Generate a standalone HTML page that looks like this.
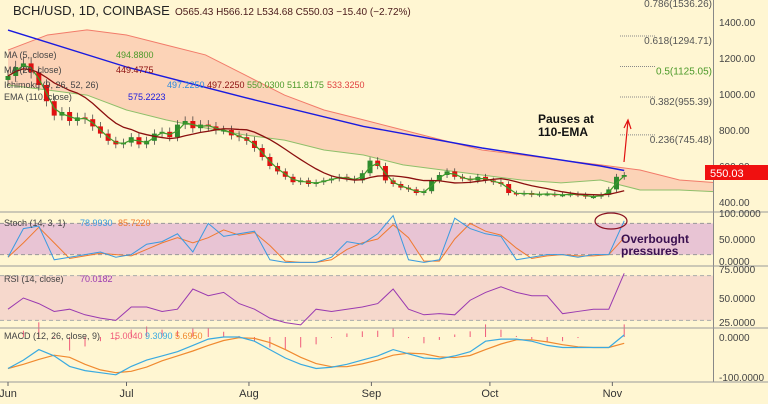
<!DOCTYPE html>
<html><head><meta charset="utf-8"><style>
body{margin:0;width:768px;height:404px;overflow:hidden;background:#fff6d2;font-family:"Liberation Sans",sans-serif}
svg{display:block}
</style></head><body>
<svg id="c" width="768" height="404" xmlns="http://www.w3.org/2000/svg">
<rect x="0" y="0" width="768" height="404" fill="#fff6d2"/>
<g id="main"></g>
<g id="stochG"></g>
<g id="rsiG"></g>
<g id="macdG"></g>
<g id="axes"></g>
</svg>
<script>
// ---- data ----
const closes = [1100,1150,1170,1120,1050,960,880,900,850,870,860,820,780,740,720,
730,760,720,740,780,790,760,830,850,810,830,820,800,800,770,760,
740,700,650,600,570,540,510,520,500,510,520,530,540,530,520,560,
630,600,520,500,480,470,450,460,520,550,570,540,530,520,540,
520,510,500,450,445,450,440,445,445,440,440,445,440,430,430,440,
470,540,550];
const emaDays = [0,30,60,90,120,150,156];
const emaVals = [1355,1150,980,820,700,600,575];
const cloudDays = [0,10,20,30,40,50,60,70,80,90,100,110,120,130,140,150,160,170,180];
const cloudTop = [1244,1328,1356,1328,1272,1217,1106,994,911,856,800,744,689,661,633,606,578,522,506];
const cloudBot = [1050,1022,994,911,856,811,772,744,689,661,606,578,550,522,506,522,467,467,456];
const stochK = [15,70,75,10,15,20,25,15, 20,40,45,60,25,80,55,60, 65,10,5,5,5,15,45,40, 60,95,10,5,10,90,70,60, 55,10,15,20,20,15,20,20, 85];
const rsiVals = [40,50,45,38,40,35,32,30, 42,42,38,40,58,52,55,45, 40,32,28,26,40,38,40,42, 45,58,40,35,36,35,48,55, 60,55,52,52,36,38,40,40, 72];
const macdVals = [-75,-55,-30,-45,-70,-80,-85,-90, -70,-55,-45,-35,-20,-5,0,0, -10,-30,-50,-65,-75,-72,-65,-55, -45,-30,-40,-50,-52,-45,-35,-10, -5,-5,-10,-20,-25,-25,-25,-25, 5];
const monthLabels = ["Jun","Jul","Aug","Sep","Oct","Nov"];
const monthDays = [0,30,61,92,122,153];
const priceTicks = [1400,1200,1000,800,600,400];
const fibLabels = ["0.786(1536.26)","0.618(1294.71)","0.5(1125.05)","0.382(955.39)","0.236(745.48)"];
const fibPrices = [1536.26,1294.71,1125.05,955.39,745.48];

// ---- scales ----
const NS="http://www.w3.org/2000/svg";
const xd = d => 8 + d*3.95;
const yp = p => 22 + (1400-p)*0.18;
const ys = v => 265 - v*0.52;
const yr = v => 270 + (75-v)*1.12;
const ym = v => 337 - v*0.42;
function mk(par,tag,at,txt){const e=document.createElementNS(NS,tag);for(const k in at)e.setAttribute(k,at[k]);if(txt!==undefined)e.textContent=txt;document.getElementById(par).appendChild(e);return e;}
const pts=(days,vals,fy)=>days.map((d,i)=>xd(d)+","+fy(vals[i])).join(" ");

// ---- main pane ----
let e;
e=mk("main","polygon",{points:pts(cloudDays,cloudTop,yp)+" "+pts(cloudDays.slice().reverse(),cloudBot.slice().reverse(),yp),fill:"#fbcdb3",opacity:"0.85"});

e=mk("main","polyline",{points:pts(cloudDays,cloudTop,yp),fill:"none",stroke:"#f27b6a","stroke-width":1});

e=mk("main","polyline",{points:pts(cloudDays,cloudBot,yp),fill:"none",stroke:"#8fbf6a","stroke-width":1});

// candles
const cd = closes.map((c,i)=>i*156/(closes.length-1));
closes.forEach((c,i)=>{const o=i?closes[i-1]:c*0.98;const up=c>=o;const x=xd(cd[i]);
 const hi=Math.max(o,c)*1.03,lo=Math.min(o,c)*0.97;
 e=mk("main","line",{x1:x,x2:x,y1:yp(hi),y2:yp(lo),stroke:"#333","stroke-width":0.7});
 
 e=mk("main","rect",{x:x-2.5,y:Math.min(yp(o),yp(c)),width:5,height:Math.max(1.5,Math.abs(yp(o)-yp(c))),fill:up?"#2e8b2e":"#e01010"});
 });
function sma(a,n){return a.map((v,i)=>{const s=a.slice(Math.max(0,i-n+1),i+1);return s.reduce((x,y)=>x+y,0)/s.length;});}
e=mk("main","polyline",{points:pts(cd,sma(closes,2),yp),fill:"none",stroke:"#3e9b2a","stroke-width":1.2});

e=mk("main","polyline",{points:pts(cd,sma(closes,10),yp),fill:"none",stroke:"#8b0f0f","stroke-width":1.3});

e=mk("main","polyline",{points:pts(emaDays,emaVals,yp),fill:"none",stroke:"#1a1adf","stroke-width":1.4});

// fib
fibPrices.forEach((p,i)=>{const y=yp(p);
 if(i>0){e=mk("main","line",{x1:620,x2:656,y1:y-5,y2:y-5,stroke:"#888","stroke-dasharray":"1,1"});}
 e=mk("main","text",{x:712,y:i==0?7:y+3,"font-size":10,fill:i==2?"#4c9a2a":"#555","text-anchor":"end"},fibLabels[i]);
 });
e=mk("main","path",{d:"M624,162 L628,121 M624,128 L628,120 L631,129",stroke:"#e01010",fill:"none","stroke-width":1.2});

e=mk("main","text",{x:538,y:123,"font-size":12,"font-weight":"bold",fill:"#111"},"Pauses at");
e=mk("main","text",{x:538,y:136,"font-size":12,"font-weight":"bold",fill:"#111"},"110-EMA");
const leg=[["BCH/USD, 1D, COINBASE",13,15,"#222",13],["O565.43  H566.12  L534.68  C550.03  −15.40 (−2.72%)",175,15,"#4a1a1a",10],
["MA (5, close)",4,58,"#444",9],["494.8800",116,58,"#4c9a2a",9],["MA (20, close)",4,73,"#444",9],["449.4775",116,73,"#8b0f0f",9],
["Ichimoku (9, 26, 52, 26)",4,88,"#444",9],["497.2250",167,88,"#2a8adf",9],["497.2250",207,88,"#8b0f0f",9],["550.0300",247,88,"#4c9a2a",9],["511.8175",287,88,"#4c9a2a",9],["533.3250",327,88,"#e04040",9],
["EMA (110, close)",4,100,"#444",9],["575.2223",128,100,"#1a1adf",9]];
leg.forEach(l=>{e=mk("main","text",{x:l[1],y:l[2],"font-size":l[4],fill:l[3]},l[0]);});

// ---- stoch ----
e=mk("stochG","rect",{x:0,y:ys(80),width:713,height:ys(20)-ys(80),fill:"#e8c4d4"});
[80,20].forEach(v=>{e=mk("stochG","line",{x1:0,x2:713,y1:ys(v),y2:ys(v),stroke:"#999","stroke-dasharray":"4,3"});});
const id4=stochK.map((v,i)=>i*156/(stochK.length-1));
e=mk("stochG","polyline",{points:pts(id4,sma(stochK,2),ys),fill:"none",stroke:"#f07a30","stroke-width":1});
e=mk("stochG","polyline",{points:pts(id4,stochK,ys),fill:"none",stroke:"#3a9ae0","stroke-width":1});
e=mk("stochG","ellipse",{cx:611,cy:221,rx:16,ry:8,fill:"none",stroke:"#8b1020","stroke-width":1.2});
e=mk("stochG","text",{x:621,y:243,"font-size":12,"font-weight":"bold",fill:"#3a1050"},"Overbought");
e=mk("stochG","text",{x:621,y:255,"font-size":12,"font-weight":"bold",fill:"#3a1050"},"pressures");
[["Stoch (14, 3, 1)",4,"#444"],["78.9930",80,"#3a9ae0"],["85.7220",118,"#f07a30"]].forEach(l=>{e=mk("stochG","text",{x:l[1],y:226,"font-size":9,fill:l[2]},l[0]);});

// ---- rsi ----
e=mk("rsiG","rect",{x:0,y:yr(70),width:713,height:yr(30)-yr(70),fill:"#f6d8cc"});
[70,30].forEach(v=>{e=mk("rsiG","line",{x1:0,x2:713,y1:yr(v),y2:yr(v),stroke:"#aaa","stroke-dasharray":"4,3"});});
e=mk("rsiG","polyline",{points:pts(id4,rsiVals,yr),fill:"none",stroke:"#9a3ab0","stroke-width":1});
[["RSI (14, close)",4,"#444"],["70.0182",80,"#9a3ab0"]].forEach(l=>{e=mk("rsiG","text",{x:l[1],y:282,"font-size":9,fill:l[2]},l[0]);});

// ---- macd ----
const sig=macdVals.map((v,i,a)=>{const s=a.slice(Math.max(0,i-2),i+1);return s.reduce((x,y)=>x+y,0)/s.length;});
macdVals.forEach((v,i)=>{const h=(v-sig[i])*1.5;const x=xd(id4[i]);
 e=mk("macdG","line",{x1:x,x2:x,y1:ym(0),y2:ym(h),stroke:"#f05a7a","stroke-width":1});});
e=mk("macdG","polyline",{points:pts(id4,sig,ym),fill:"none",stroke:"#f08a30","stroke-width":1.2});
e=mk("macdG","polyline",{points:pts(id4,macdVals,ym),fill:"none",stroke:"#3aaae0","stroke-width":1.2});
[["MACD (12, 26, close, 9)",4,"#444"],["15.0040",110,"#f05a7a"],["9.3090",145,"#3aaae0"],["5.6950",175,"#f08a30"]].forEach(l=>{e=mk("macdG","text",{x:l[1],y:339,"font-size":9,fill:l[2]},l[0]);});

// ---- axes ----
e=mk("axes","rect",{x:714,y:0,width:54,height:404,fill:"#fff6d2"});
e=mk("axes","line",{x1:713.5,x2:713.5,y1:0,y2:382,stroke:"#888"});
[212,266,328,382].forEach(y=>{e=mk("axes","line",{x1:0,x2:768,y1:y,y2:y,stroke:"#999"});});
priceTicks.forEach(p=>{e=mk("axes","text",{x:719,y:yp(p)+4,"font-size":10,fill:"#444"},p.toFixed(2));});
[[ys(100)+4,"100.0000"],[ys(50)+4,"50.0000"],[ys(0),"0.0000"],[yr(75)+3,"75.0000"],[yr(50)+4,"50.0000"],[yr(25),"25.0000"],[ym(0)+4,"0.0000"],[ym(-100)+2,"-100.0000"]].forEach(t=>{
 e=mk("axes","text",{x:719,y:t[0],"font-size":10,fill:"#444"},t[1]);});
e=mk("axes","rect",{x:705,y:165,width:63,height:15,fill:"#f01010"});
e=mk("axes","text",{x:710,y:177,"font-size":11,fill:"#fff"},"550.03");
monthLabels.forEach((m,i)=>{const x=xd(monthDays[i]);
 e=mk("axes","line",{x1:x,x2:x,y1:382,y2:386,stroke:"#666"});
 e=mk("axes","text",{x:x,y:397,"font-size":11,fill:"#333","text-anchor":"middle"},m);});
</script>
</body></html>
